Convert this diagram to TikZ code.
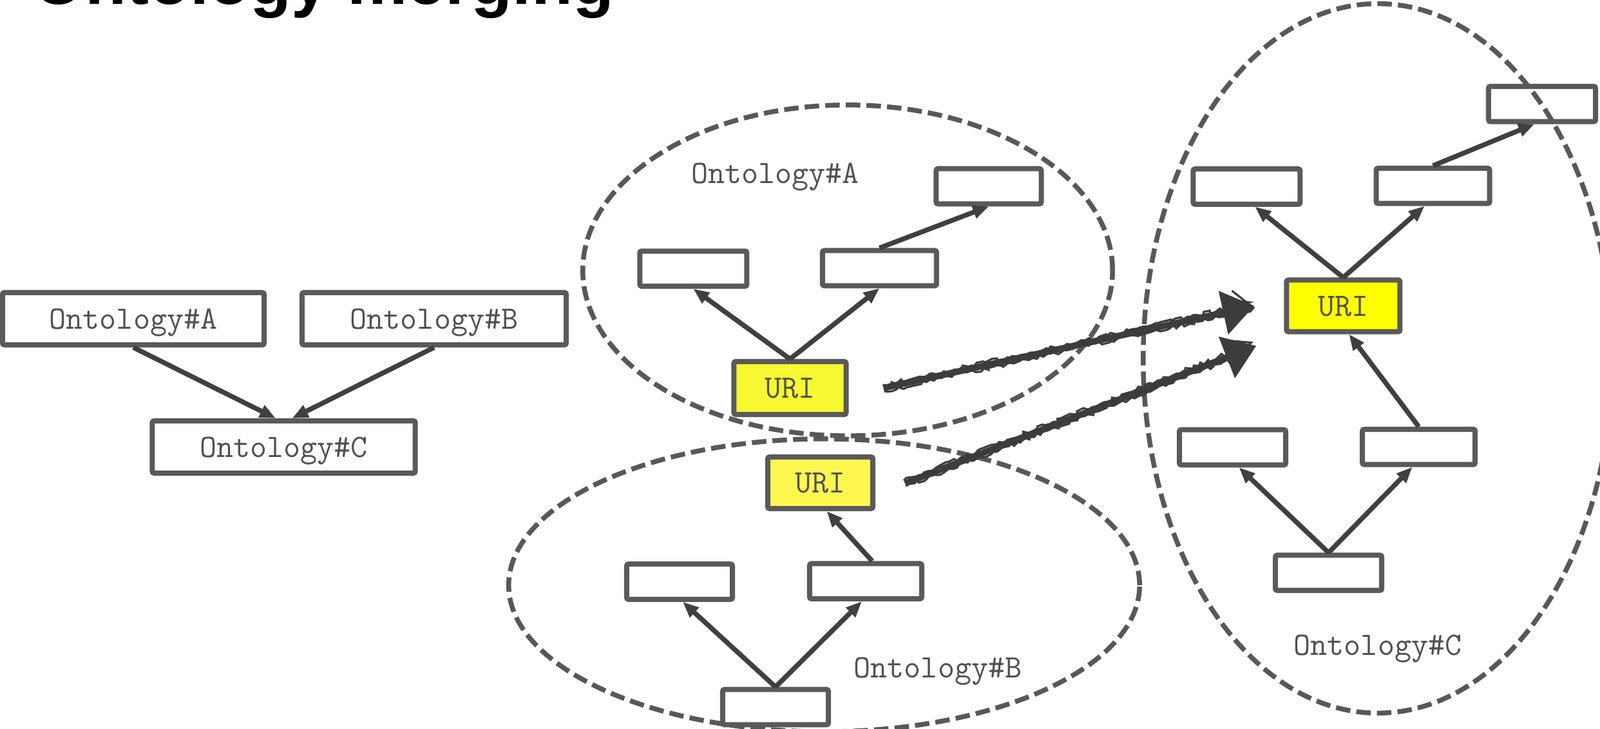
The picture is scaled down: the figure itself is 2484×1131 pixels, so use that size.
\documentclass[tikz,border=0pt]{standalone}
\usepackage{fontspec}
\newfontfamily\titlefont{Liberation Sans}
\usetikzlibrary{arrows.meta,calc,decorations.pathmorphing}
\definecolor{boxgray}{HTML}{5A5A5A}
\definecolor{linkgray}{HTML}{404040}
\definecolor{dashgray}{HTML}{585858}
\definecolor{txtgray}{HTML}{505050}
\definecolor{sketchc}{HTML}{3C3C3C}
\definecolor{yelA}{RGB}{247,247,50}
\definecolor{yelB}{RGB}{255,247,80}
\definecolor{yelC}{RGB}{255,255,0}
\newcommand{\lblfont}{\fontsize{14.4pt}{17pt}\selectfont\ttfamily\addfontfeatures{FakeBold=0.9}}
\begin{document}
\begin{tikzpicture}[x=0.01cm,y=-0.01cm,
  box/.style={draw=boxgray, line width=0.08cm, fill=white, inner sep=0pt, rounded corners=0.8pt,
    font=\lblfont, text=txtgray, text height=8.9pt, text depth=0pt},
  bigbox/.style={box, minimum height=0.81cm},
  smallbox/.style={box, minimum height=0.545cm},
  uribox/.style={box, minimum height=0.80cm},
  link/.style={draw=linkgray, line width=0.075cm, -{Triangle[length=7pt,width=5.6pt]}},
  oval/.style={draw=dashgray, line width=0.075cm, dash pattern=on 6.4pt off 2.7pt},
  olabel/.style={font=\lblfont, text=txtgray, anchor=base, inner sep=0pt},
  sketch/.style={draw=sketchc, line width=0.1cm, -{Triangle[length=14pt,width=19pt]}},
  rough/.style={draw=sketchc, line width=0.9pt, shorten >=13pt, decorate,
    decoration={random steps, segment length=1.6pt, amplitude=0.9pt}}
]
\useasboundingbox (0,0) rectangle (2484,1131);
\fill[white] (0,0) rectangle (2484,1131);
\clip (0,0) rectangle (2484,1131);

% title (cut off at the top, as in the reference)
\node[anchor=base west, inner sep=0pt, font={\titlefont\bfseries\fontsize{29.8pt}{32pt}\selectfont}] (title) at (50,7) {Ontology merging};

% left group
\node[bigbox, minimum width=4.06cm] (lA) at (207,494.5) {Ontology\#A};
\node[bigbox, minimum width=4.10cm] (lB) at (674,494.5) {Ontology\#B};
\node[bigbox, minimum width=4.08cm] (lC) at (440.6,693.5) {Ontology\#C};
\draw[link] (lA.south) -- ([xshift=-0.126cm]lC.north);
\draw[link] (lB.south) -- ([xshift=0.13cm]lC.north);

% group A
\node[smallbox, minimum width=1.63cm] (aR) at (1535,289) {};
\node[smallbox, minimum width=1.66cm] (aL) at (1076.4,416.8) {};
\node[smallbox, minimum width=1.77cm] (aM) at (1365.4,416) {};
\node[uribox, minimum width=1.74cm, minimum height=0.82cm, fill=yelA] (aU) at (1226.5,602) {URI};

% group B
\node[uribox, minimum width=1.63cm, fill=yelB] (bU) at (1273.5,749) {URI};
\node[smallbox, minimum width=1.64cm] (bL) at (1055,902.5) {};
\node[smallbox, minimum width=1.74cm] (bR) at (1344,901.7) {};
\node[smallbox, minimum width=1.64cm] (bD) at (1204,1097) {};

% group C
\node[uribox, minimum width=1.76cm, fill=yelC] (cU) at (2085.4,474.5) {URI};
\node[smallbox, minimum width=1.66cm] (cL) at (1935.4,289.5) {};
\node[smallbox, minimum width=1.76cm] (cR) at (2224.6,288.4) {};
\node[smallbox, minimum width=1.66cm] (cT) at (2394,161.3) {};
\node[smallbox, minimum width=1.65cm] (cLL) at (1913.6,694) {};
\node[smallbox, minimum width=1.75cm] (cLR) at (2202.6,693.3) {};
\node[smallbox, minimum width=1.65cm] (cD) at (2062.6,888.7) {};

% dashed ovals
\draw[oval] (1316,419.5) ellipse [x radius=4.11cm, y radius=2.565cm];
\draw[oval] (1279.5,908) ellipse [x radius=4.895cm, y radius=2.27cm];
\draw[oval] (2139,556) ellipse [x radius=3.64cm, y radius=5.5cm];

% oval labels
\node[olabel] (tA) at (1203.5,285) {Ontology\#A};
\node[olabel] (tB) at (1456,1051.7) {Ontology\#B};
\node[olabel] (tC) at (2139,1016.5) {Ontology\#C};

% links A
\draw[link] (aU.north) -- (aL.south);
\draw[link] (aU.north) -- (aM.south);
\draw[link] (aM.north) -- (aR.south);
% links B
\draw[link] ([xshift=0.1cm]bR.north) -- ([xshift=0.1cm]bU.south);
\draw[link] (bD.north) -- ([xshift=0.05cm]bL.south);
\draw[link] (bD.north) -- ([xshift=-0.06cm]bR.south);
% links C
\draw[link] (cU.north) -- ([xshift=0.13cm]cL.south);
\draw[link] (cU.north) -- ([xshift=-0.13cm]cR.south);
\draw[link] (cR.north) -- ([xshift=-0.12cm]cT.south);
\draw[link] (cD.north) -- ([xshift=0.1cm]cLL.south);
\draw[link] (cD.north) -- ([xshift=-0.1cm]cLR.south);
\draw[link] (cLR.north) -- ([xshift=0.09cm]cU.south);

% sketchy merge arrows
\coordinate (s1a) at ($(aU.east)+(54,0)$);
\coordinate (s1b) at ($(cU.west)+(-46,0)$);
\coordinate (s2a) at ($(bU.east)+(46,1)$);
\coordinate (s2b) at ($(cU.south west)+(-43,18)$);
\draw[sketch] (s1a) -- (s1b);
\draw[sketch] (s2a) -- (s2b);
\draw[rough] ($(s1a)!1.4pt!90:(s1b)$) -- ($(s1b)!1.4pt!-90:(s1a)$);
\draw[rough] ($(s1a)!1.4pt!-90:(s1b)$) -- ($(s1b)!1.4pt!90:(s1a)$);
\draw[rough] ($(s2a)!1.4pt!90:(s2b)$) -- ($(s2b)!1.4pt!-90:(s2a)$);
\draw[rough] ($(s2a)!1.4pt!-90:(s2b)$) -- ($(s2b)!1.4pt!90:(s2a)$);
\end{tikzpicture}
\end{document}
